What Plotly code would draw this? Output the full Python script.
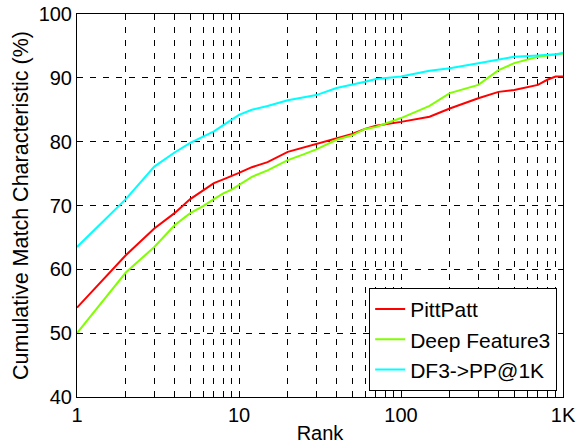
import plotly.graph_objects as go

rank = [1, 2, 3, 4, 5, 6, 7, 8, 9, 10, 12, 15, 20, 25, 30, 40, 50, 60, 70, 100, 150, 200, 300, 400, 500, 700, 800, 900, 1000]
pittpatt = [54.0, 62.2, 66.4, 68.8, 71.0, 72.4, 73.5, 74.1, 74.6, 75.1, 76.0, 76.8, 78.4, 79.1, 79.7, 80.5, 81.2, 82.0, 82.5, 83.1, 83.9, 85.2, 86.8, 87.8, 88.1, 88.9, 89.7, 90.2, 90.2]
deepfeat = [50.0, 59.5, 63.5, 66.9, 68.8, 69.9, 71.0, 71.9, 72.5, 73.2, 74.5, 75.5, 77.1, 78.0, 78.8, 80.3, 81.0, 82.0, 82.3, 83.7, 85.6, 87.6, 88.9, 91.2, 92.3, 93.3, 93.5, 93.7, 93.8]
df3pp = [63.5, 71.0, 76.1, 78.3, 79.8, 80.8, 81.6, 82.6, 83.4, 84.2, 85.0, 85.6, 86.5, 86.9, 87.3, 88.4, 88.9, 89.4, 89.8, 90.2, 91.1, 91.5, 92.3, 92.8, 93.3, 93.5, 93.6, 93.7, 93.9]

series_names = ["PittPatt", "Deep Feature3", "DF3->PP@1K"]
series_colors = ["#ff0000", "#80ff00", "#00ffff"]

x_tickvals = [m * 10 ** e for e in range(3) for m in range(1, 10)] + [1000]
x_ticktext = [{1: "1", 10: "10", 100: "100", 1000: "1K"}.get(v, "") for v in x_tickvals]
y_tickvals = [40, 50, 60, 70, 80, 90, 100]

font = "Liberation Sans, Arial, Helvetica, sans-serif"

fig = go.Figure()
for name, ys, col in zip(series_names, [pittpatt, deepfeat, df3pp], series_colors):
    fig.add_trace(go.Scatter(x=rank, y=ys, mode="lines", name=name,
                             line=dict(color=col, width=2)))

fig.update_layout(
    width=577, height=444,
    margin=dict(l=77, r=14, t=14, b=47),
    paper_bgcolor="white", plot_bgcolor="white",
    font=dict(family=font, size=20, color="black"),
    legend=dict(x=0.988, y=0.016, xanchor="right", yanchor="bottom",
                bgcolor="white", bordercolor="black", borderwidth=1,
                font=dict(size=21), itemwidth=30, tracegroupgap=0),
    showlegend=True,
)
fig.update_xaxes(
    type="log", range=[0, 3], automargin=False,
    tickvals=x_tickvals, ticktext=x_ticktext,
    ticks="inside", ticklen=4, tickcolor="black",
    showline=True, linecolor="black", linewidth=1, mirror="ticks",
    showgrid=True, gridcolor="black", gridwidth=1, griddash="6px,7px",
    zeroline=False,
    title=dict(text="Rank", standoff=0, font=dict(size=20)),
    tickfont=dict(size=20),
)
fig.update_yaxes(
    range=[40, 100], tickvals=y_tickvals, automargin=False,
    ticks="inside", ticklen=5, tickcolor="black",
    showline=True, linecolor="black", linewidth=1, mirror="ticks",
    showgrid=True, gridcolor="black", gridwidth=1, griddash="6px,7px",
    zeroline=False,
    title=dict(text="Cumulative Match Characteristic (%)", standoff=4, font=dict(size=21.5)),
    tickfont=dict(size=20),
)

fig.write_html("out.html")
